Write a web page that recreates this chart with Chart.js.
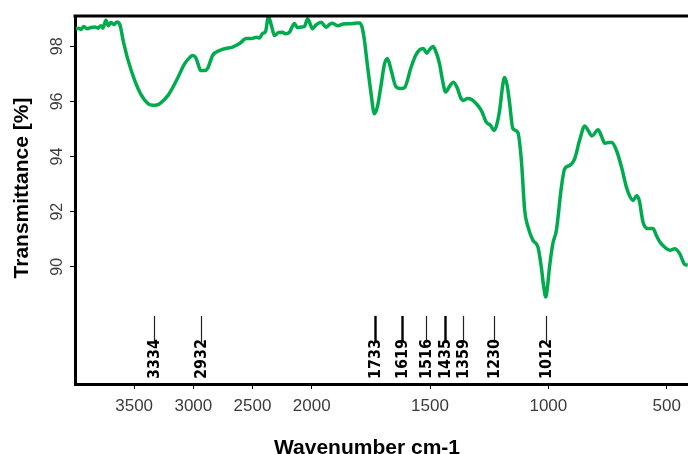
<!DOCTYPE html>
<html>
<head>
<meta charset="utf-8">
<script src="https://cdn.jsdelivr.net/npm/chart.js@4"></script>
<style>
  body { margin: 0; background: #fff; }
  #wrap { width: 688px; height: 454px; }
</style>
</head>
<body>
<div id="wrap"><canvas id="chart1" width="688" height="454"></canvas></div>
<script>
// Datos del espectro (numero de onda en cm-1 y transmitancia en %)
var wavenumbers = [3992,3967,3950,3925,3899,3866,3832,3807,3781,3764,
    3739,3718,3697,3672,3646,3621,3593,3551,3495,3438,
    3383,3343,3309,3270,3214,3143,3073,3031,3006,2980,
    2964,2938,2905,2879,2837,2778,2728,2669,2610,2551,
    2508,2466,2441,2416,2390,2365,2340,2314,2281,2247,
    2222,2188,2146,2121,2087,2062,2034,2011,1997,1980,
    1960,1939,1925,1912,1891,1866,1841,1815,1798,1787,
    1777,1767,1749,1735,1722,1709,1692,1680,1664,1643,
    1625,1608,1580,1561,1544,1528,1514,1502,1488,1477,
    1460,1447,1434,1418,1401,1384,1371,1358,1341,1324,
    1305,1283,1262,1244,1230,1219,1206,1193,1185,1174,
    1164,1150,1129,1114,1100,1086,1065,1044,1030,1020,
    1011,1003,995,981,966,945,931,910,889,868,
    846,832,816,790,775,762,745,732,712,691,
    670,656,642,627,616,600,579,558,542,529,
    508,487,466,445,424,411];
var transmittance = [98.63,98.66,98.61,98.72,98.64,98.68,98.70,98.66,98.75,98.66,
    98.95,98.75,98.86,98.79,98.88,98.79,98.21,97.49,96.76,96.22,
    95.92,95.86,95.87,95.97,96.22,96.76,97.37,97.59,97.67,97.59,
    97.41,97.12,97.12,97.20,97.67,97.85,97.92,97.97,98.10,98.28,
    98.28,98.33,98.30,98.46,98.54,99.08,98.75,98.39,98.50,98.51,
    98.46,98.51,98.83,98.68,98.70,98.72,99.00,98.79,98.64,98.79,
    98.87,98.69,98.79,98.84,98.75,98.81,98.82,98.84,98.85,98.69,
    98.21,97.49,96.28,95.55,95.82,96.47,97.37,97.56,97.12,96.52,
    96.47,96.50,97.24,97.67,97.87,97.92,97.75,97.88,97.99,97.85,
    97.37,96.76,96.34,96.54,96.70,96.47,96.14,96.04,96.11,96.07,
    95.92,95.67,95.25,95.13,94.95,95.13,95.67,96.58,96.87,96.58,
    95.96,95.02,94.88,93.86,92.05,91.45,90.96,90.72,90.00,89.30,
    88.91,89.33,90.00,90.84,91.33,92.89,93.56,93.68,93.92,94.59,
    95.11,94.95,94.75,94.97,94.73,94.48,94.51,94.51,94.22,93.62,
    92.89,92.56,92.41,92.58,92.41,91.62,91.39,91.39,91.11,90.90,
    90.71,90.60,90.66,90.48,90.09,90.06];

// Picos marcados
var peaks = [3334, 2932, 1733, 1619, 1516, 1435, 1359, 1230, 1012];

// Etiquetas de los ejes
var xTickLabels = [3500, 3000, 2500, 2000, 1500, 1000, 500];
var yTickLabels = [90, 92, 94, 96, 98];

// Eje x comprimido a la mitad por encima de 2000 cm-1
function toAxis(w) {
    return w <= 2000 ? w : 2000 + (w - 2000) / 2;
}
function fromAxis(u) {
    return u <= 2000 ? u : 2000 + (u - 2000) * 2;
}

var points = [];
for (var i = 0; i < wavenumbers.length; i++) {
    points.push({ x: toAxis(wavenumbers[i]), y: transmittance[i] });
}

var extras = {
    id: "extras",
    afterDraw: function (chart) {
        var ctx = chart.ctx;
        var xs = chart.scales.x;
        var ys = chart.scales.y;
        var area = chart.chartArea;
        ctx.save();

        // borde superior
        ctx.strokeStyle = "#000";
        ctx.lineWidth = 3;
        ctx.beginPath();
        ctx.moveTo(area.left - 1.5, area.top);
        ctx.lineTo(area.right, area.top);
        ctx.stroke();

        // lineas y etiquetas de picos
        var yTop = ys.getPixelForValue(88.22);
        var yBot = ys.getPixelForValue(87.25);
        for (var i = 0; i < peaks.length; i++) {
            var px = Math.round(xs.getPixelForValue(toAxis(peaks[i]))) + 0.5;
            var thick = [1733, 1619, 1435].indexOf(peaks[i]) >= 0;
            ctx.strokeStyle = thick ? "#000" : "#222";
            ctx.lineWidth = thick ? 2.4 : 1.2;
            ctx.beginPath();
            ctx.moveTo(px, yTop);
            ctx.lineTo(px, yBot);
            ctx.stroke();

            ctx.save();
            ctx.translate(px, 379);
            ctx.rotate(-Math.PI / 2);
            ctx.fillStyle = "#000";
            ctx.font = "bold 16px 'Liberation Sans Narrow', 'DejaVu Sans Condensed', Arial, sans-serif";
            ctx.textAlign = "left";
            ctx.textBaseline = "middle";
            ctx.fillText(String(peaks[i]), 0, 0);
            ctx.restore();
        }

        // titulos de los ejes
        ctx.fillStyle = "#000";
        ctx.font = "bold 21px 'Liberation Sans', Arial, sans-serif";
        ctx.textAlign = "center";
        ctx.textBaseline = "middle";
        ctx.fillText("Wavenumber cm-1", 367, 448);

        ctx.save();
        ctx.translate(22, 188);
        ctx.rotate(-Math.PI / 2);
        ctx.fillText("Transmittance [%]", 0, 0);
        ctx.restore();

        ctx.restore();
    }
};

new Chart("chart1", {
    type: "line",
    data: {
        datasets: [{
            data: points,
            borderColor: "#00ab4e",
            borderWidth: 3.5,
            pointRadius: 0,
            fill: false,
            cubicInterpolationMode: "monotone"
        }]
    },
    options: {
        responsive: false,
        animation: false,
        layout: { padding: { top: 16, right: 0, left: 0, bottom: 0 } },
        plugins: {
            legend: { display: false },
            tooltip: { enabled: false }
        },
        scales: {
            x: {
                type: "linear",
                reverse: true,
                min: 410,
                max: 3000,
                afterBuildTicks: function (scale) {
                    scale.ticks = xTickLabels.map(function (w) { return { value: toAxis(w) }; });
                },
                afterFit: function (scale) { scale.height = 70; },
                border: { display: true, color: "#000", width: 3 },
                grid: { display: true, drawOnChartArea: false, drawTicks: true, tickLength: 5, color: "#000", lineWidth: 1 },
                ticks: {
                    autoSkip: false,
                    maxRotation: 0,
                    padding: 7,
                    color: "#3c3c3c",
                    font: { family: "'Liberation Sans', Arial, sans-serif", size: 17 },
                    callback: function (v) { return String(Math.round(fromAxis(v))); }
                }
            },
            y: {
                min: 85.75,
                max: 99.1,
                afterBuildTicks: function (scale) {
                    scale.ticks = yTickLabels.map(function (v) { return { value: v }; });
                },
                afterFit: function (scale) { scale.width = 75; },
                border: { display: true, color: "#000", width: 3 },
                grid: { display: true, drawOnChartArea: false, drawTicks: true, tickLength: 5, color: "#000", lineWidth: 1 },
                ticks: {
                    minRotation: 90,
                    maxRotation: 90,
                    crossAlign: "center",
                    padding: 4,
                    color: "#3c3c3c",
                    font: { family: "'Liberation Sans', Arial, sans-serif", size: 16 }
                }
            }
        }
    },
    plugins: [extras]
});
</script>
</body>
</html>
